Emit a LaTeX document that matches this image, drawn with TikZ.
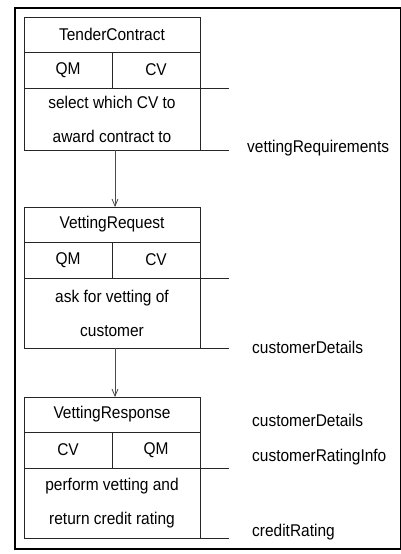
\documentclass[tikz,border=0pt]{standalone}
\usepackage{fontspec}
\setmainfont{Liberation Sans}[FakeStretch=0.91]
\usetikzlibrary{arrows.meta, positioning}

\begin{document}
\begin{tikzpicture}[x=1pt,y=-1pt,>={Straight Barb[length=7pt,width=6pt]},
        every node/.style={font=\fontsize{17}{34}\selectfont},
        cell/.style={draw=black!85,line width=0.8pt,inner sep=0pt,outer sep=0pt,align=center},
        titlebox/.style={cell,minimum width=176pt,minimum height=35pt},
        rolebox/.style={cell,minimum width=88pt,minimum height=36pt,anchor=north west},
        actbox/.style={cell,minimum width=176pt,anchor=north west},
        msg/.style={anchor=west,inner sep=0pt}]
    \useasboundingbox (0,0) rectangle (401,554);
    \draw[line width=2.5pt] (15,8) rectangle (401.5,549);

      % tender contract
      \node[titlebox] (tc) at (112,34.5) {TenderContract};
      \node[rolebox] (tcqm) at (tc.south west) {QM};
      \node[rolebox] (tccv) at (tcqm.north east) {CV};
      \node[actbox,minimum height=62pt] (tcact) at (tcqm.south west) {select which CV to\\award contract to};

      % vetting request
      \node[titlebox] (vr) at (112,224.5) {VettingRequest};
      \node[rolebox] (vrqm) at (vr.south west) {QM};
      \node[rolebox] (vrcv) at (vrqm.north east) {CV};
      \node[actbox,minimum height=70pt] (vract) at (vrqm.south west) {ask for vetting of\\customer};

      % vetting response
      \node[titlebox] (vs) at (112,414.5) {VettingResponse};
      \node[rolebox] (vscv) at (vs.south west) {CV};
      \node[rolebox] (vsqm) at (vscv.north east) {QM};
      \node[actbox,minimum height=70pt] (vsact) at (vscv.south west) {perform vetting and\\return credit rating};

      \node[msg] (m1) at (247,148) {vettingRequirements};
      \node[msg] (m2) at (252,347) {customerDetails};
      \node[msg] (m3) at (252,420) {customerDetails};
      \node[msg] (m4) at (252,457) {customerRatingInfo};
      \node[msg] (m5) at (252,532) {creditRating};

      \foreach \b in {tcact,vract,vsact}{
        \draw[black!85,line width=0.8pt] (\b.north east) -- +(29,0);
        \draw[black!85,line width=0.8pt] (\b.south east) -- +(29,0);
      }

      \draw[->,black!70,line width=0.8pt] ([xshift=3pt]tcact.south) -- ([xshift=3pt]vr.north);
      \draw[->,black!70,line width=0.8pt] ([xshift=3pt]vract.south) -- ([xshift=3pt]vs.north);
    \end{tikzpicture}
\end{document}
